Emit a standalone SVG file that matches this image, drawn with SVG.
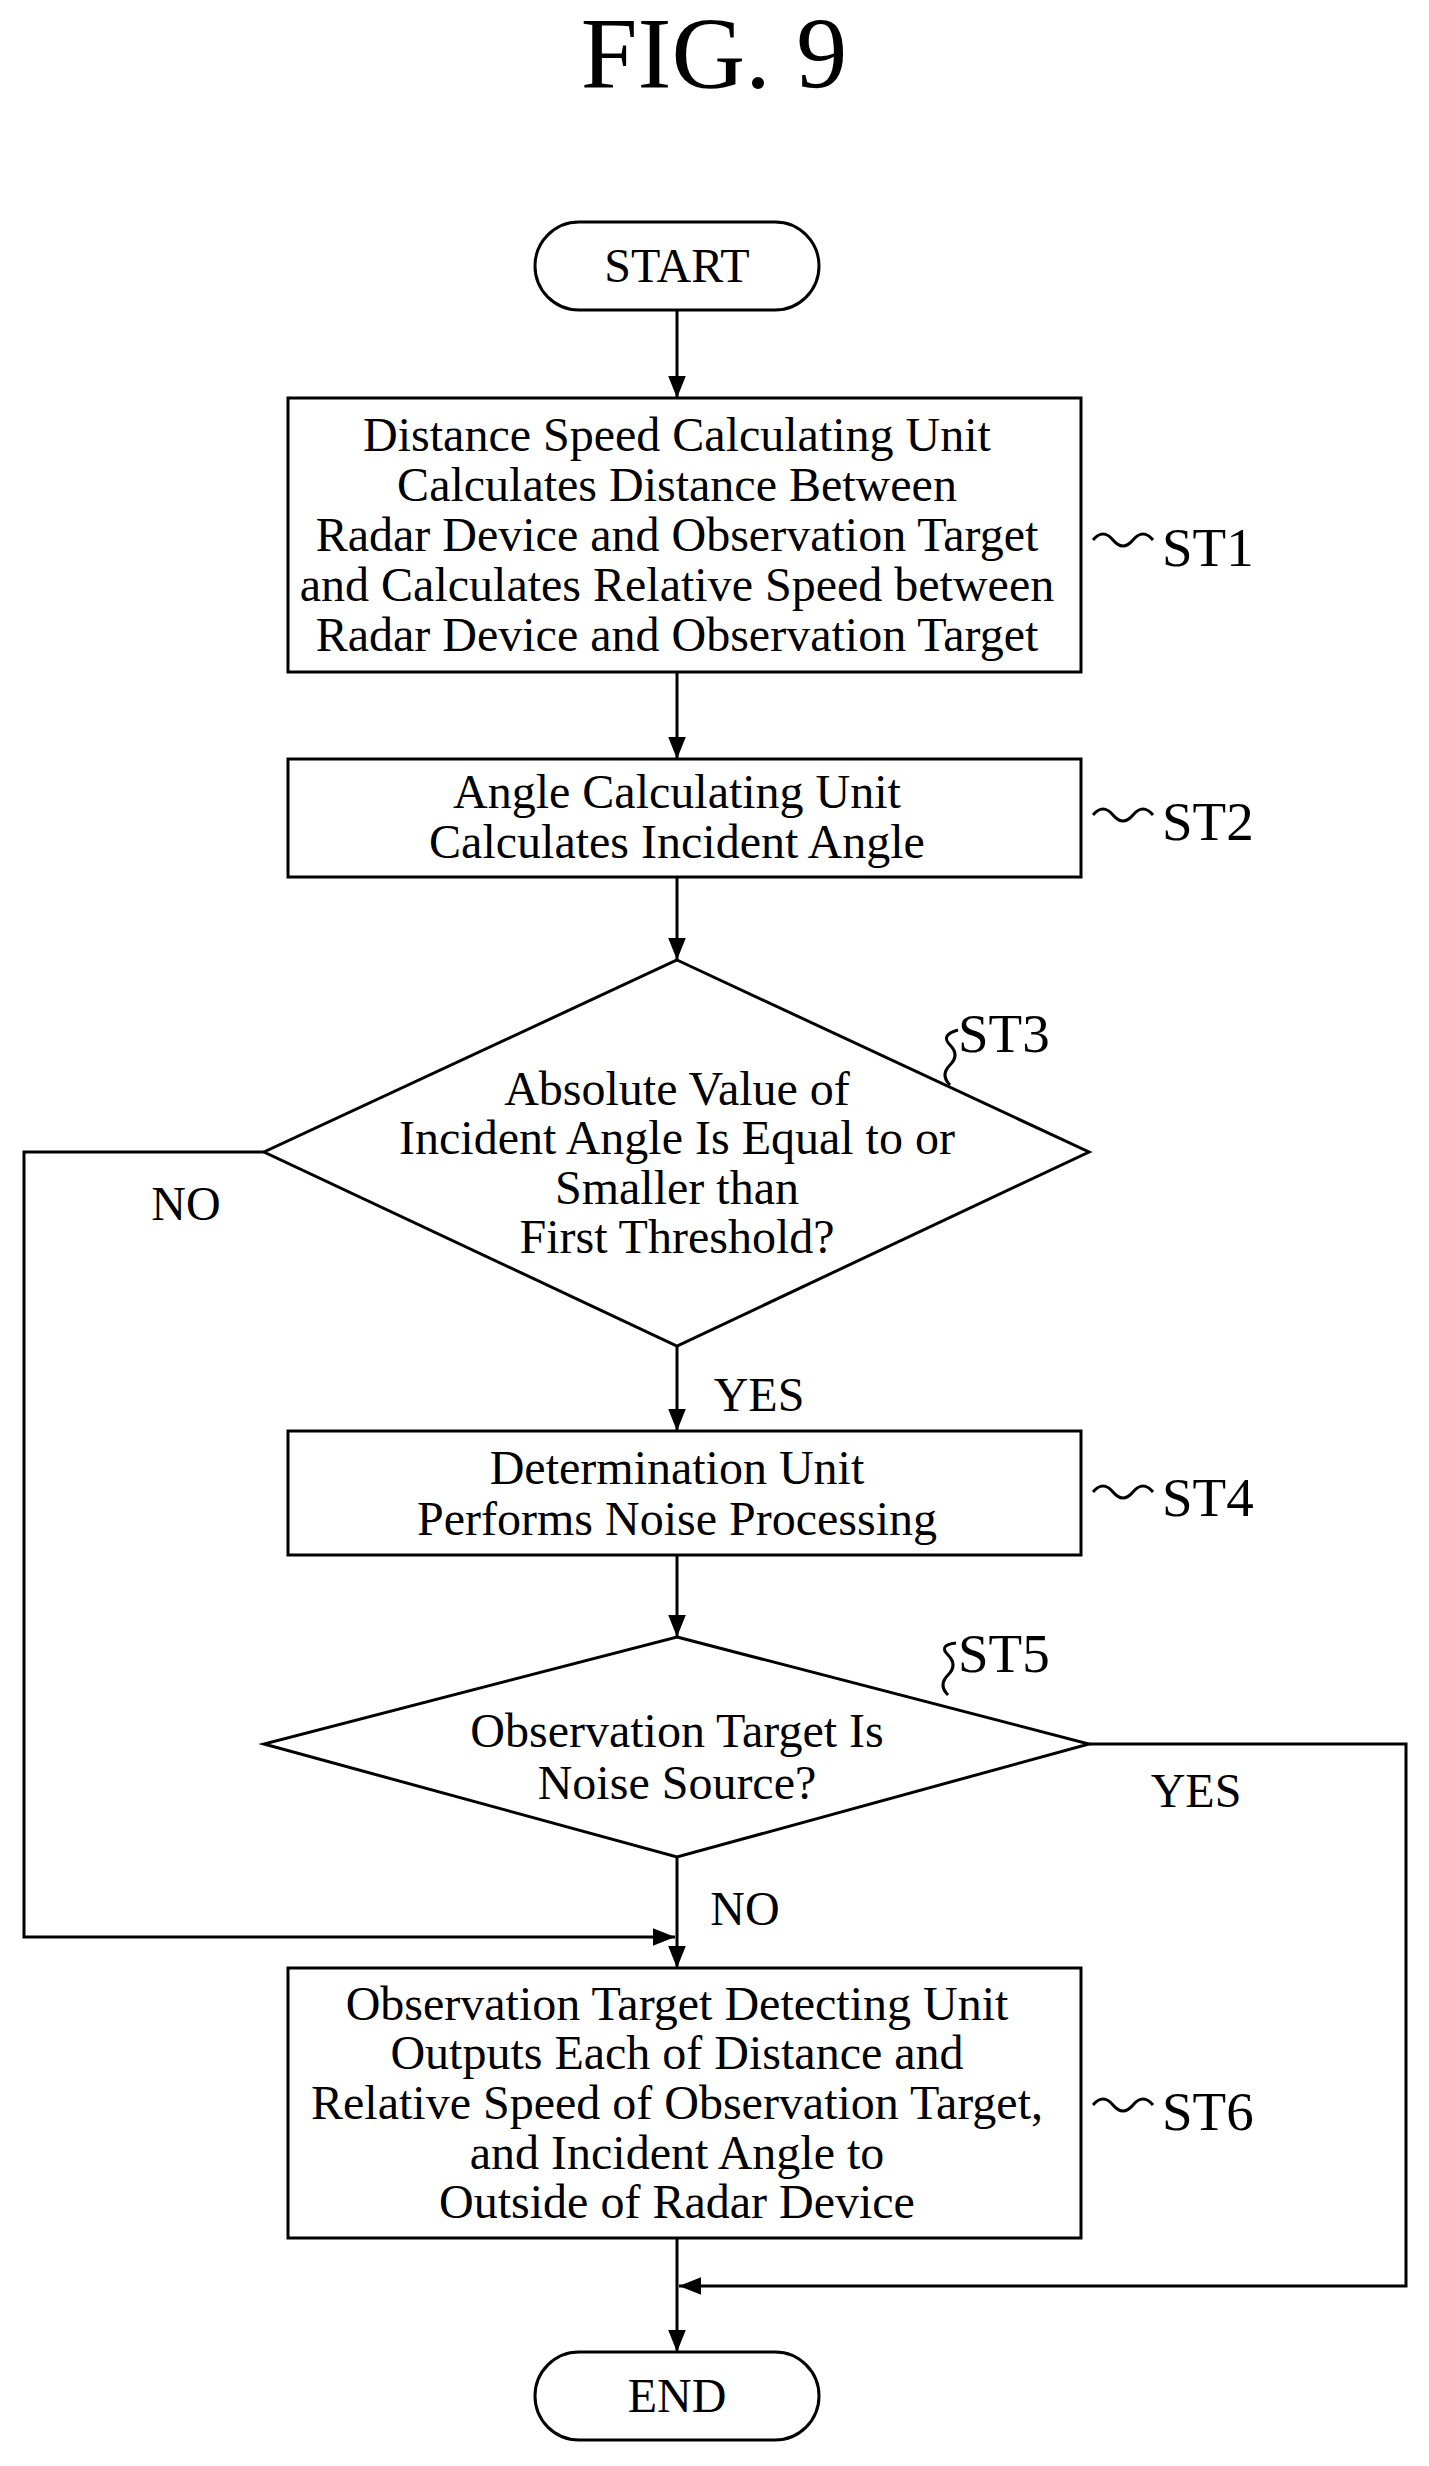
<svg xmlns="http://www.w3.org/2000/svg" width="1429" height="2466" viewBox="0 0 1429 2466">
<style>
text{font-family:"Liberation Serif","Times New Roman",serif;fill:#000}
.t{font-size:48px;text-anchor:middle}
.l{font-size:55px}
.s{fill:none;stroke:#000;stroke-width:3}
</style>
<defs>
<marker id="b" viewBox="0 0 10 10" refX="10" refY="5" markerWidth="22" markerHeight="22" markerUnits="userSpaceOnUse" orient="auto"><path d="M0,1 L10,5 L0,9 z" fill="#000"/></marker></defs>
<rect width="1429" height="2466" fill="#fff"/>
<text x="714" y="88" font-size="102" text-anchor="middle">FIG. 9</text>
<g id="connectors" class="s">
<path d="M677,310 V398" marker-end="url(#b)"/>
<path d="M677,672 V759" marker-end="url(#b)"/>
<path d="M677,877 V960" marker-end="url(#b)"/>
<path d="M677,1346 V1431" marker-end="url(#b)"/>
<path d="M677,1555 V1637" marker-end="url(#b)"/>
<path d="M677,1857 V1968" marker-end="url(#b)"/>
<path d="M264,1152 H24 V1937 H675" marker-end="url(#b)"/>
<path d="M1089,1744 H1406 V2286 H679" marker-end="url(#b)"/>
<path d="M677,2238 V2352" marker-end="url(#b)"/>
</g>
<g id="start"><rect x="535" y="222" width="284" height="88" rx="44" class="s"/><text class="t" x="677" y="282">START</text></g>
<g id="st1"><rect x="288" y="398" width="793" height="274" class="s"/>
<text class="t" x="677" y="451">Distance Speed Calculating Unit</text>
<text class="t" x="677" y="501">Calculates Distance Between</text>
<text class="t" x="677" y="551">Radar Device and Observation Target</text>
<text class="t" x="677" y="601">and Calculates Relative Speed between</text>
<text class="t" x="677" y="651">Radar Device and Observation Target</text>
<path class="s" d="M1093,540 q10,-12 20,0 t20,0 t20,0"/><text class="l" x="1162" y="566">ST1</text></g>
<g id="st2"><rect x="288" y="759" width="793" height="118" class="s"/>
<text class="t" x="677" y="808">Angle Calculating Unit</text>
<text class="t" x="677" y="858">Calculates Incident Angle</text>
<path class="s" d="M1093,815 q10,-12 20,0 t20,0 t20,0"/><text class="l" x="1162" y="840">ST2</text></g>
<g id="st3"><polygon points="677,960 1089,1152 677,1346 264,1152" class="s"/>
<text class="t" x="677" y="1105">Absolute Value of</text>
<text class="t" x="677" y="1154">Incident Angle Is Equal to or</text>
<text class="t" x="677" y="1204">Smaller than</text>
<text class="t" x="677" y="1253">First Threshold?</text>
<path class="s" d="M950,1085 q-10,-10 0,-20 t0,-20 t8,-15"/><text class="l" x="958" y="1052">ST3</text></g>
<g id="st4"><rect x="288" y="1431" width="793" height="124" class="s"/>
<text class="t" x="677" y="1484">Determination Unit</text>
<text class="t" x="677" y="1535">Performs Noise Processing</text>
<path class="s" d="M1093,1492 q10,-12 20,0 t20,0 t20,0"/><text class="l" x="1162" y="1516">ST4</text></g>
<g id="st5"><polygon points="677,1637 1089,1744 677,1857 264,1744" class="s"/>
<text class="t" x="677" y="1747">Observation Target Is</text>
<text class="t" x="677" y="1799">Noise Source?</text>
<path class="s" d="M948,1695 q-10,-10 0,-20 t0,-20 t8,-12"/><text class="l" x="958" y="1672">ST5</text></g>
<g id="st6"><rect x="288" y="1968" width="793" height="270" class="s"/>
<text class="t" x="677" y="2020">Observation Target Detecting Unit</text>
<text class="t" x="677" y="2069">Outputs Each of Distance and</text>
<text class="t" x="677" y="2119">Relative Speed of Observation Target,</text>
<text class="t" x="677" y="2169">and Incident Angle to</text>
<text class="t" x="677" y="2218">Outside of Radar Device</text>
<path class="s" d="M1093,2105 q10,-12 20,0 t20,0 t20,0"/><text class="l" x="1162" y="2130">ST6</text></g>
<g id="end"><rect x="535" y="2352" width="284" height="88" rx="44" class="s"/><text class="t" x="677" y="2412">END</text></g>
<g id="labels">
<text class="t" x="186" y="1220">NO</text>
<text class="t" x="759" y="1411">YES</text>
<text class="t" x="1196" y="1807">YES</text>
<text class="t" x="745" y="1925">NO</text>
</g>
</svg>
